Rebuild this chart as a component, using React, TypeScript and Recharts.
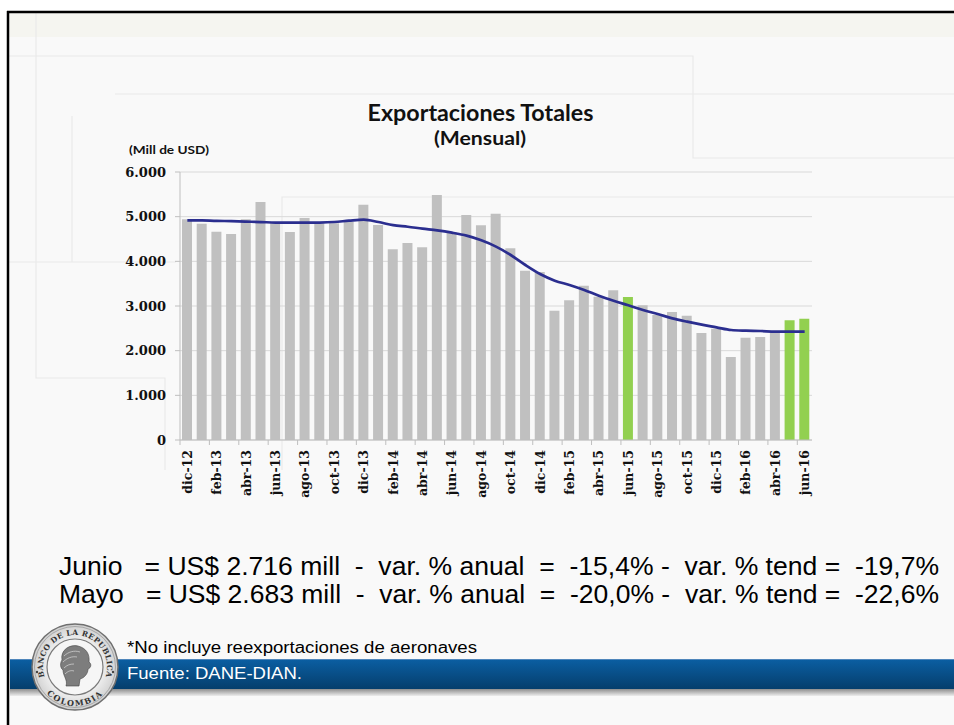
import React from "react";
import { ComposedChart, Bar, Line, XAxis, YAxis, CartesianGrid, Cell } from "recharts";

const meses = [
  "dic-12", "ene-13", "feb-13", "mar-13", "abr-13", "may-13", "jun-13", "jul-13", "ago-13", "sep-13", "oct-13", "nov-13",
  "dic-13", "ene-14", "feb-14", "mar-14", "abr-14", "may-14", "jun-14", "jul-14", "ago-14", "sep-14", "oct-14", "nov-14",
  "dic-14", "ene-15", "feb-15", "mar-15", "abr-15", "may-15", "jun-15", "jul-15", "ago-15", "sep-15", "oct-15", "nov-15",
  "dic-15", "ene-16", "feb-16", "mar-16", "abr-16", "may-16", "jun-16",
];

const exportaciones = [
  4940, 4843, 4664, 4612, 4940, 5329, 4865, 4657, 4970, 4851, 4850, 4888,
  5269, 4814, 4269, 4411, 4314, 5486, 4650, 5038, 4806, 5067, 4291, 3791,
  3761, 2896, 3127, 3455, 3209, 3351, 3202, 3015, 2800, 2866, 2783, 2396,
  2490, 1858, 2291, 2306, 2410, 2683, 2716,
];

const tendencia = [
  4918, 4915, 4905, 4900, 4890, 4880, 4868, 4866, 4866, 4868, 4880, 4910,
  4933, 4880, 4810, 4775, 4732, 4694, 4642, 4575, 4470, 4329, 4142, 3918,
  3717, 3567, 3470, 3358, 3231, 3119, 3015, 2910, 2821, 2724, 2649, 2582,
  2523, 2463, 2448, 2440, 2425, 2425, 2425,
];

const destacados = ["jun-15", "may-16", "jun-16"];
const yTicks = [0, 1000, 2000, 3000, 4000, 5000, 6000];

const lineaJunio = "Junio   = US$ 2.716 mill  -  var. % anual  =  -15,4% -  var. % tend =  -19,7%";
const lineaMayo = "Mayo   = US$ 2.683 mill  -  var. % anual  =  -20,0% -  var. % tend =  -22,6%";

const data = meses.map((mes, i) => ({ mes, valor: exportaciones[i], tendencia: tendencia[i] }));

const W = 954;
const H = 725;
const PLOT_LEFT = 180;
const PLOT_RIGHT = 812;
const BAND = (PLOT_RIGHT - PLOT_LEFT) / meses.length;

const fmt = (n: number) => String(n).replace(/\B(?=(\d{3})+(?!\d))/g, ".");

const serif = "'DejaVu Serif', 'Liberation Serif', serif";
const sans = "'Liberation Sans', Arial, sans-serif";
const titleFont = "Lato, 'Open Sans', sans-serif";

const XTick = (props: any) => {
  const { x, y, payload } = props;
  return (
    <g transform={`translate(${x},${y})`}>
      <line x1={-BAND / 2} x2={-BAND / 2} y1={-8} y2={-3} stroke="#bfbfbf" />
      <text
        transform="rotate(-90)"
        x={-2}
        y={0}
        dy="0.36em"
        textAnchor="end"
        fontFamily={serif}
        fontWeight="bold"
        fontSize={12.5}
        fill="#111"
      >
        {payload.value}
      </text>
    </g>
  );
};

const SX = 75;
const SY = 667;

const Background = () => (
  <svg width={W} height={H} style={{ position: "absolute", left: 0, top: 0, display: "block" }}>
    <defs>
      <linearGradient id="blue" x1="0" y1="0" x2="0" y2="1">
        <stop offset="0" stopColor="#0b5fa3" />
        <stop offset="1" stopColor="#053e6c" />
      </linearGradient>
      <linearGradient id="shadow" x1="0" y1="0" x2="0" y2="1">
        <stop offset="0" stopColor="#8e8e8e" />
        <stop offset="1" stopColor="#ededed" />
      </linearGradient>
      <radialGradient id="seal" cx="0.5" cy="0.5" r="0.5">
        <stop offset="0.6" stopColor="#f2f2f2" />
        <stop offset="1" stopColor="#cfcfcf" />
      </radialGradient>
      <path id="arcTop" d={`M ${SX - 30.1} ${SY + 11} A 32 32 0 1 1 ${SX + 30.1} ${SY + 11}`} />
      <path id="arcBot" d={`M ${SX - 33.8} ${SY + 19.5} A 39 39 0 0 0 ${SX + 33.8} ${SY + 19.5}`} />
    </defs>
    <rect x={0} y={0} width={W} height={H} fill="#ffffff" />
    <rect x={8} y={12} width={W - 8} height={H - 12} fill="#f9f9f9" />
    <rect x={8} y={13} width={W - 8} height={24} fill="#f5f5f0" />
    <g stroke="#e9e9e9" strokeWidth={1.2} fill="none">
      <polyline points="8,56 693,56 693,158 954,158" />
      <polyline points="36,13 36,378 165,378 165,470" />
      <polyline points="72,116 72,262" />
      <polyline points="8,262 176,262" />
      <polyline points="115,94 954,94" />
      <polyline points="282,470 282,197 954,197" />
    </g>
    <line x1={8} y1={11} x2={8} y2={H} stroke="#000" strokeWidth={2.5} />
    <line x1={7} y1={12} x2={W} y2={12} stroke="#000" strokeWidth={2.5} />

    <text x={480.5} y={120.5} textAnchor="middle" fontFamily={titleFont} fontWeight="bold" fontSize={23} fill="#111" textLength={226} lengthAdjust="spacingAndGlyphs">
      Exportaciones Totales
    </text>
    <text x={480} y={145} textAnchor="middle" fontFamily={titleFont} fontWeight="bold" fontSize={19} fill="#111" textLength={92} lengthAdjust="spacingAndGlyphs">
      (Mensual)
    </text>
    <text x={129} y={154} fontFamily={titleFont} fontWeight="bold" fontSize={11} fill="#111" textLength={80} lengthAdjust="spacingAndGlyphs">
      (Mill de USD)
    </text>

    <text x={59} y={575} fontFamily={sans} fontSize={25} fill="#000" style={{ whiteSpace: "pre" }} textLength={880} lengthAdjust="spacingAndGlyphs">
      {lineaJunio}
    </text>
    <text x={59} y={603} fontFamily={sans} fontSize={25} fill="#000" style={{ whiteSpace: "pre" }} textLength={880} lengthAdjust="spacingAndGlyphs">
      {lineaMayo}
    </text>

    <rect x={10} y={689} width={W - 10} height={7} fill="url(#shadow)" />
    <rect x={10} y={659} width={W - 10} height={30} fill="url(#blue)" />
    <line x1={10} y1={659.5} x2={W} y2={659.5} stroke="#4f86bb" strokeWidth={1} />
    <text x={127} y={653} fontFamily={sans} fontSize={16} fill="#000" textLength={350} lengthAdjust="spacingAndGlyphs">
      *No incluye reexportaciones de aeronaves
    </text>
    <text x={127} y={679} fontFamily={sans} fontSize={16} fill="#ffffff" textLength={175} lengthAdjust="spacingAndGlyphs">
      Fuente: DANE-DIAN.
    </text>

    <circle cx={SX} cy={SY} r={43} fill="url(#seal)" stroke="#6f6f6f" strokeWidth={1.5} />
    <circle cx={SX} cy={SY} r={40.5} fill="none" stroke="#9a9a9a" strokeWidth={0.8} />
    <circle cx={SX} cy={SY} r={28} fill="#f6f6f6" stroke="#7a7a7a" strokeWidth={1.2} />
    <text fontFamily={serif} fontWeight="bold" fontSize={7.5} fill="#333" letterSpacing={0.3}>
      <textPath href="#arcTop" startOffset="50%" textAnchor="middle">BANCO DE LA REPUBLICA</textPath>
    </text>
    <text fontFamily={serif} fontWeight="bold" fontSize={8} fill="#333" letterSpacing={1.5}>
      <textPath href="#arcBot" startOffset="50%" textAnchor="middle">COLOMBIA</textPath>
    </text>
    <circle cx={SX - 38} cy={SY + 5} r={1.2} fill="#444" />
    <circle cx={SX + 38} cy={SY + 5} r={1.2} fill="#444" />
    <g fill="#7d7d7d" stroke="#444" strokeWidth={0.6}>
      <path d="M 62 660 C 60 650 70 644 78 646 C 86 648 90 654 89 662 C 92 664 91 668 88 669 C 88 674 84 678 80 679 L 79 686 L 66 686 C 68 680 63 676 63 670 C 60 668 60 663 62 660 Z" />
    </g>
    <g fill="none" stroke="#d8d8d8" strokeWidth={0.7}>
      <path d="M 64 656 C 68 652 74 650 80 652" />
      <path d="M 63 662 C 67 658 72 656 77 657" />
      <path d="M 64 668 C 67 665 70 664 74 664" />
      <path d="M 65 674 C 68 671 71 670 74 671" />
    </g>
  </svg>
);

export default function App() {
  return (
    <div style={{ position: "fixed", left: 0, top: 0, width: W, height: H, overflow: "hidden" }}>
      <Background />
      <div style={{ position: "absolute", left: 0, top: 0 }}>
        <ComposedChart
          width={W}
          height={H}
          data={data}
          accessibilityLayer={false}
          margin={{ top: 172, right: W - PLOT_RIGHT, bottom: 215, left: PLOT_LEFT - 60 }}
        >
          <CartesianGrid vertical={false} stroke="#d9d9d9" strokeWidth={1} />
          <XAxis
            dataKey="mes"
            interval={1}
            height={70}
            tickLine={false}
            tickSize={6}
            tickMargin={2}
            axisLine={{ stroke: "#bfbfbf" }}
            tick={<XTick />}
          />
          <YAxis
            width={60}
            domain={[0, 6000]}
            ticks={yTicks}
            tickFormatter={fmt}
            axisLine={{ stroke: "#bfbfbf" }}
            tickLine={{ stroke: "#bfbfbf" }}
            tickSize={5}
            tickMargin={9}
            tick={{ fill: "#111", fontFamily: serif, fontWeight: "bold", fontSize: 13 }}
          />
          <Bar dataKey="valor" barSize={10} isAnimationActive={false}>
            {data.map((d) => (
              <Cell key={d.mes} fill={destacados.includes(d.mes) ? "#92d050" : "#c0c0c0"} />
            ))}
          </Bar>
          <Line
            dataKey="tendencia"
            type="monotone"
            stroke="#2b2e8f"
            strokeWidth={2.7}
            dot={false}
            activeDot={false}
            isAnimationActive={false}
          />
        </ComposedChart>
      </div>
    </div>
  );
}
